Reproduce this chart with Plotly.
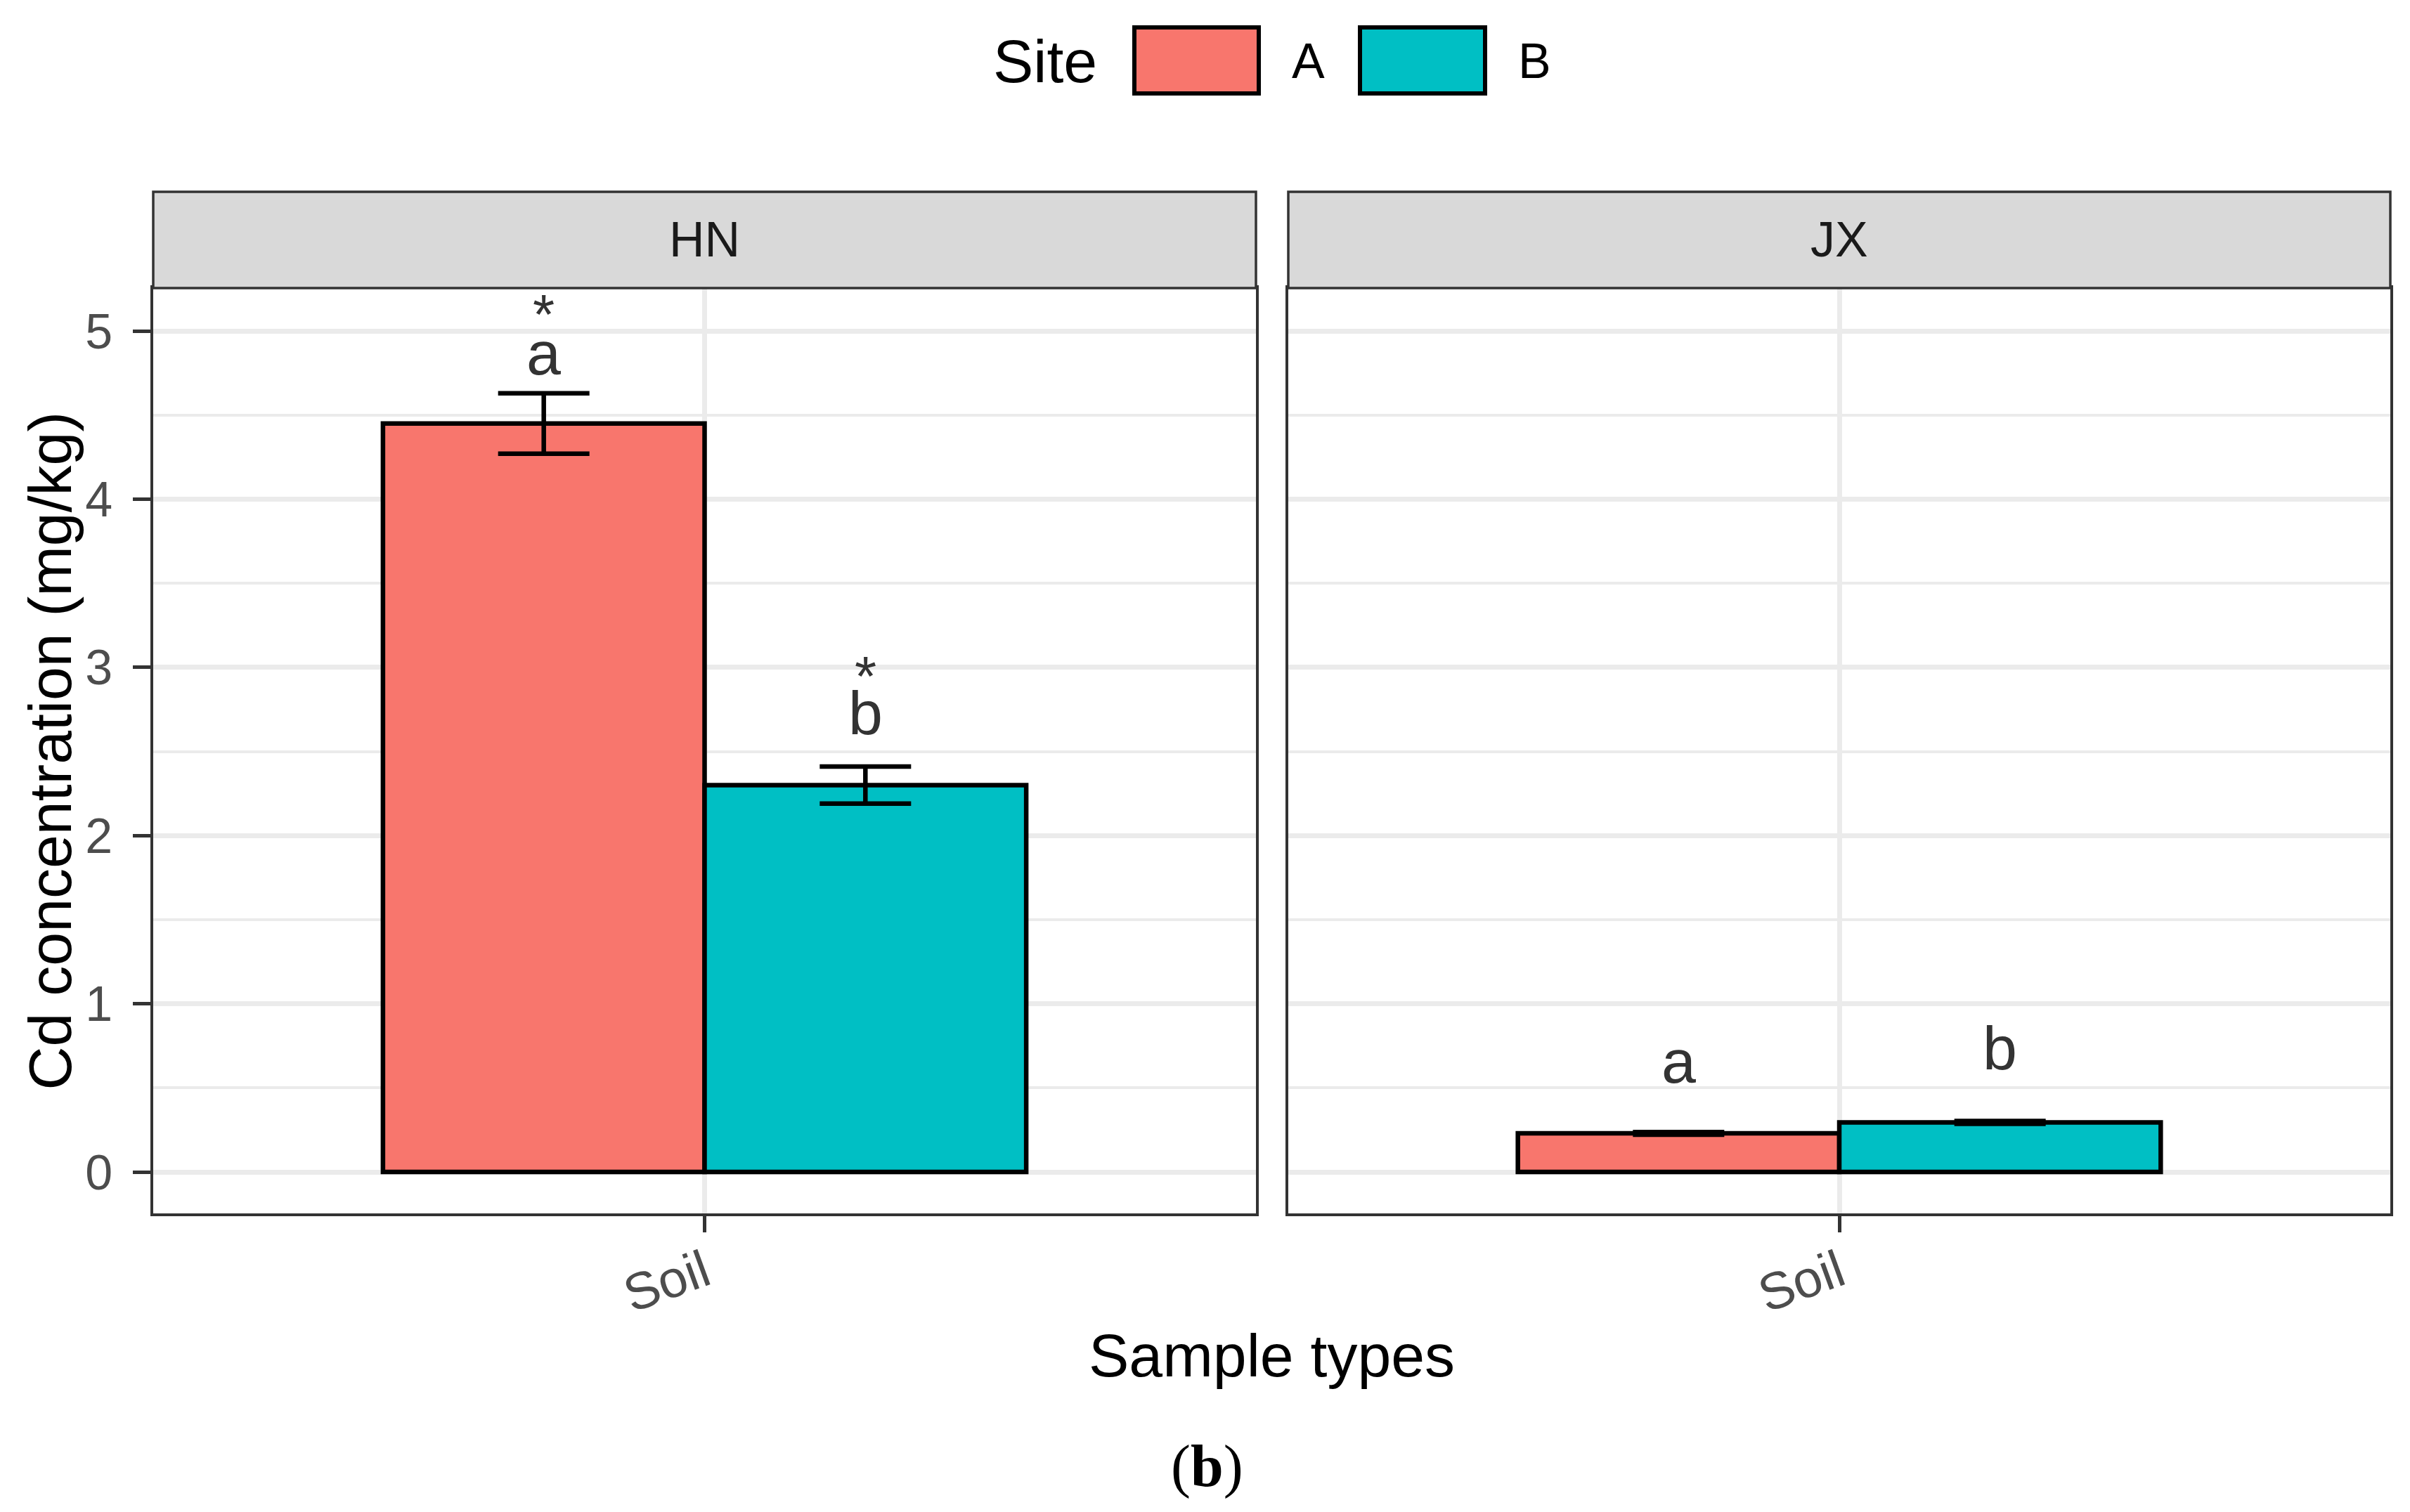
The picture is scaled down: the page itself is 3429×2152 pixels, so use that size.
import plotly.graph_objects as go

# ---------------- data ----------------
facets = ["HN", "JX"]
sample_types = ["Soil"]
sites = ["A", "B"]
site_colors = ["#F8766D", "#00BFC4"]

# mean Cd concentration (mg/kg) per facet, ordered by site
cd_mean = {"HN": [4.45, 2.30], "JX": [0.23, 0.295]}
cd_se = {"HN": [0.18, 0.11], "JX": [0.008, 0.008]}

# significance letters / stars and their heights (baseline, data units)
letters = {"HN": ["a", "b"], "JX": ["a", "b"]}
letter_y = {"HN": [4.74, 2.60], "JX": [0.53, 0.61]}
stars = {"HN": ["*", "*"], "JX": ["", ""]}
star_y = {"HN": [4.97, 2.82], "JX": [None, None]}

y_ticks = [0, 1, 2, 3, 4, 5]
y_range = [-0.246, 5.255]

# ---------------- layout geometry (px) ----------------
W, H = 3429, 2152
OFF = 8  # page body margin
def fx(p):
    return (p - OFF) / W
def fy(p):
    return 1 - (p - OFF) / H

panel_x = [(218, 1787), (1833, 3401)]
panel_top, panel_bot = 410, 1727
strip_top = 273
FONT = "Liberation Sans, Arial, sans-serif"
bargap = 0.3
letter_fs = 88

fig = go.Figure()
axis_names = [("x", "y"), ("x2", "y2")]

for fi, facet in enumerate(facets):
    xa, ya = axis_names[fi]
    for si, site in enumerate(sites):
        fig.add_trace(go.Bar(
            x=sample_types,
            y=[cd_mean[facet][si]],
            name=site,
            offsetgroup=site,
            marker=dict(color=site_colors[si], line=dict(color="black", width=6.5)),
            error_y=dict(type="data", array=[cd_se[facet][si]], color="black",
                         thickness=6.5, width=65),
            xaxis=xa, yaxis=ya, showlegend=False,
        ))

annotations = []
shapes = []
bar_w = (1 - bargap) / len(sites)
for fi, facet in enumerate(facets):
    xa, ya = axis_names[fi]
    for si in range(len(sites)):
        xpos = 0 - (1 - bargap) / 2 + bar_w * (si + 0.5)
        annotations.append(dict(
            x=xpos, y=letter_y[facet][si], xref=xa, yref=ya, text=letters[facet][si],
            showarrow=False, yanchor="middle", yshift=0.35 * letter_fs,
            font=dict(family=FONT, size=letter_fs, color="#333333")))
        if stars[facet][si]:
            annotations.append(dict(
                x=xpos, y=star_y[facet][si], xref=xa, yref=ya, text=stars[facet][si],
                showarrow=False, yanchor="middle", yshift=0.35 * letter_fs,
                font=dict(family=FONT, size=80, color="#333333")))
    # strip
    x0, x1 = panel_x[fi]
    shapes.append(dict(type="rect", xref="paper", yref="paper",
                       x0=fx(x0), x1=fx(x1), y0=fy(panel_top), y1=fy(strip_top),
                       fillcolor="#D9D9D9", line=dict(color="#333333", width=3.5),
                       layer="above"))
    annotations.append(dict(x=fx((x0 + x1) / 2), y=fy((panel_top + strip_top) / 2),
                            xref="paper", yref="paper", text=facet, showarrow=False,
                            xanchor="center", yanchor="middle",
                            font=dict(family=FONT, size=70, color="#1A1A1A")))

# axis titles
annotations.append(dict(x=fx(70), y=fy((panel_top + panel_bot) / 2), xref="paper", yref="paper",
                        text="Cd concentration (mg/kg)", textangle=-90, showarrow=False,
                        xanchor="center", yanchor="middle",
                        font=dict(family=FONT, size=86, color="black")))
annotations.append(dict(x=fx((panel_x[0][0] + panel_x[1][1]) / 2), y=fy(1929), xref="paper", yref="paper",
                        text="Sample types", showarrow=False, xanchor="center", yanchor="middle",
                        font=dict(family=FONT, size=86, color="black")))
annotations.append(dict(x=fx(1717), y=fy(2087), xref="paper", yref="paper",
                        text="(<b>b</b>)", showarrow=False, xanchor="center", yanchor="middle",
                        font=dict(family="Liberation Serif, Times New Roman, serif", size=84, color="black")))

# manual legend
annotations.append(dict(x=fx(1487), y=fy(87), xref="paper", yref="paper", text="Site",
                        showarrow=False, xanchor="center", yanchor="middle",
                        font=dict(family=FONT, size=86, color="black")))
key_x = [(1614, 1791), (1935, 2113)]
lab_x = [1861, 2183]
for si, site in enumerate(sites):
    shapes.append(dict(type="rect", xref="paper", yref="paper",
                       x0=fx(key_x[si][0]), x1=fx(key_x[si][1]), y0=fy(133), y1=fy(39),
                       fillcolor=site_colors[si], line=dict(color="black", width=6)))
    annotations.append(dict(x=fx(lab_x[si]), y=fy(87), xref="paper", yref="paper", text=site,
                            showarrow=False, xanchor="center", yanchor="middle",
                            font=dict(family=FONT, size=70, color="black")))

common_x = dict(type="category", range=[-0.6, 0.6], showgrid=True, gridcolor="#EBEBEB",
                gridwidth=7, showline=True, mirror=True, linecolor="#333333", linewidth=3.5,
                ticks="outside", ticklen=23, tickwidth=5, tickcolor="#333333",
                tickangle=-20, ticklabelstandoff=-14,
                tickfont=dict(family=FONT, size=74, color="#4D4D4D"),
                zeroline=False)
common_y = dict(range=y_range, tickvals=y_ticks, showgrid=True, gridcolor="#EBEBEB", gridwidth=7,
                minor=dict(dtick=0.5, tick0=0, showgrid=True, gridcolor="#EBEBEB", gridwidth=3.5),
                showline=True, mirror=True, linecolor="#333333", linewidth=3.5, zeroline=False,
                domain=[fy(panel_bot), fy(panel_top)])

fig.update_layout(
    width=W, height=H, margin=dict(l=0, r=0, t=0, b=0),
    paper_bgcolor="white", plot_bgcolor="white",
    barmode="group", bargap=bargap, bargroupgap=0,
    xaxis=dict(common_x, domain=[fx(panel_x[0][0]), fx(panel_x[0][1])], anchor="y"),
    xaxis2=dict(common_x, domain=[fx(panel_x[1][0]), fx(panel_x[1][1])], anchor="y2"),
    yaxis=dict(common_y, anchor="x", ticks="outside", ticklen=25, tickwidth=5, tickcolor="#333333",
               ticklabelstandoff=15, tickfont=dict(family=FONT, size=70, color="#4D4D4D")),
    yaxis2=dict(common_y, anchor="x2", showticklabels=False, ticks="", matches="y"),
    annotations=annotations, shapes=shapes,
    showlegend=False,
)

fig.write_html("out.html")
